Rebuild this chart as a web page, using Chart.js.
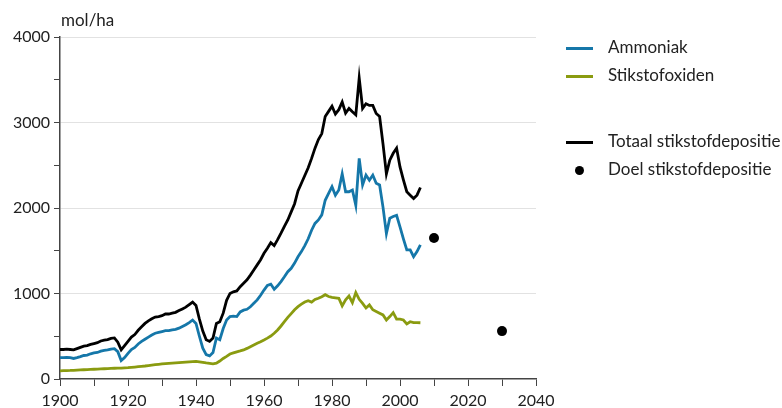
<!DOCTYPE html>
<html>
<head>
<meta charset="utf-8">
<script src="https://cdn.jsdelivr.net/npm/chart.js@4.4.1/dist/chart.umd.min.js"></script>
<style>
  body { margin: 0; background: #fff; font-family: Lato, "Open Sans", sans-serif; }
  #wrap { position: relative; width: 782px; height: 408px; }
  #unit { position: absolute; left: 61px; top: 9px; font-size: 17px; color: #222; }
  .leg { position: absolute; left: 566px; font-size: 17px; color: #222; }
  .leg .ln { position: absolute; left: 0; width: 27px; height: 3px; top: -1px; }
  .leg .dot { position: absolute; left: 9px; top: -4px; width: 9px; height: 9px; border-radius: 50%; background: #000; }
  .leg span { position: absolute; left: 42px; top: -12px; white-space: nowrap; }
</style>
</head>
<body>
<div id="wrap">
  <canvas id="chart" width="782" height="408"></canvas>
  <div id="unit">mol/ha</div>
  <div class="leg" style="top:48px"><div class="ln" style="background:#1577a9"></div><span>Ammoniak</span></div>
  <div class="leg" style="top:76px"><div class="ln" style="background:#8a9b10"></div><span>Stikstofoxiden</span></div>
  <div class="leg" style="top:142px"><div class="ln" style="background:#000"></div><span>Totaal stikstofdepositie</span></div>
  <div class="leg" style="top:170px"><div class="dot"></div><span>Doel stikstofdepositie</span></div>
</div>
<script>
const years = [
  1900, 1901, 1902, 1903, 1904, 1905, 1906, 1907, 1908, 1909,
  1910, 1911, 1912, 1913, 1914, 1915, 1916, 1917, 1918, 1919,
  1920, 1921, 1922, 1923, 1924, 1925, 1926, 1927, 1928, 1929,
  1930, 1931, 1932, 1933, 1934, 1935, 1936, 1937, 1938, 1939,
  1940, 1941, 1942, 1943, 1944, 1945, 1946, 1947, 1948, 1949,
  1950, 1951, 1952, 1953, 1954, 1955, 1956, 1957, 1958, 1959,
  1960, 1961, 1962, 1963, 1964, 1965, 1966, 1967, 1968, 1969,
  1970, 1971, 1972, 1973, 1974, 1975, 1976, 1977, 1978, 1979,
  1980, 1981, 1982, 1983, 1984, 1985, 1986, 1987, 1988, 1989,
  1990, 1991, 1992, 1993, 1994, 1995, 1996, 1997, 1998, 1999,
  2000, 2001, 2002, 2003, 2004, 2005, 2006
];

const ammoniak = [
  250, 250, 252, 250, 240, 250, 262, 275, 280, 295,
  305, 310, 325, 335, 340, 350, 355, 320, 215, 250,
  300, 345, 370, 410, 440, 465, 490, 515, 535, 545,
  555, 565, 565, 575, 580, 595, 615, 635, 660, 690,
  650, 500, 360, 285, 270, 310, 480, 460, 590, 690,
  730, 735, 730, 785, 805, 815, 845, 885, 925, 980,
  1040, 1095, 1110, 1050, 1090, 1140, 1195, 1255, 1295, 1355,
  1430, 1490, 1560, 1640, 1740, 1820, 1860, 1920, 2090, 2170,
  2250, 2150, 2210, 2400, 2190, 2190, 2210, 2030, 2580, 2270,
  2385, 2325, 2385, 2290, 2270, 2010, 1700, 1880, 1900, 1915,
  1780, 1640, 1510, 1510, 1430, 1490, 1570
];

const stikstofoxiden = [
  95, 97, 99, 100, 102, 104, 106, 108, 110, 112,
  114, 116, 118, 120, 122, 124, 126, 128, 128, 130,
  132, 136, 140, 144, 148, 152, 157, 162, 167, 172,
  176, 180, 183, 186, 189, 192, 195, 198, 201, 204,
  205, 200, 194, 188, 183, 178, 185, 210, 240, 265,
  292, 305, 318, 328, 340, 358, 378, 398, 418, 436,
  456, 478, 503, 535, 573, 620, 670, 720, 765, 810,
  846, 875, 900, 916, 900, 930, 945, 963, 986, 965,
  955, 950, 944, 855, 925, 970, 893, 1010, 932, 885,
  830, 866, 810, 790, 770, 750, 690, 730, 776, 700,
  700, 690, 645, 670, 660, 660, 658
];

const totaal = [
  345, 345, 350, 345, 340, 355, 370, 385, 390, 405,
  415, 425, 445, 455, 460, 475, 480, 430, 340, 390,
  440, 490, 520, 570, 610, 650, 680, 705, 725, 730,
  740, 760, 760, 770, 780, 800, 820, 840, 870, 900,
  860, 700, 560, 460, 440, 480, 650, 670, 770, 920,
  1000, 1020, 1030, 1080, 1120, 1160, 1215, 1275, 1335, 1395,
  1470, 1530, 1595, 1560, 1630, 1705, 1785, 1860, 1955, 2050,
  2200, 2290, 2380, 2470, 2580, 2700, 2800, 2870, 3070, 3130,
  3190, 3100, 3150, 3240, 3110, 3165, 3125, 3090, 3520, 3165,
  3220, 3200, 3200, 3105, 3070, 2750, 2400, 2560, 2640, 2700,
  2480, 2330, 2190, 2150, 2110, 2150, 2240
];

const doelJaren = [2010, 2030];
const doelWaarden = [1650, 560];

const xTicks = [1900, 1920, 1940, 1960, 1980, 2000, 2020, 2040];
const yTicks = [0, 1000, 2000, 3000, 4000];

const toPoints = (xs, ys) => xs.map((x, i) => ({ x: x, y: ys[i] }));

const axisColor = '#444';

new Chart(document.getElementById('chart'), {
    type: 'line',
    data: {
        datasets: [
            { label: 'Ammoniak', data: toPoints(years, ammoniak), borderColor: '#1577a9', borderWidth: 2.8, pointRadius: 0, tension: 0 },
            { label: 'Stikstofoxiden', data: toPoints(years, stikstofoxiden), borderColor: '#8a9b10', borderWidth: 2.8, pointRadius: 0, tension: 0 },
            { label: 'Totaal stikstofdepositie', data: toPoints(years, totaal), borderColor: '#000', borderWidth: 2.8, pointRadius: 0, tension: 0 },
            { label: 'Doel stikstofdepositie', data: toPoints(doelJaren, doelWaarden), showLine: false, pointRadius: 5, pointBackgroundColor: '#000', pointBorderWidth: 0 }
        ]
    },
    options: {
        responsive: false,
        animation: false,
        devicePixelRatio: 1,
        layout: { padding: { top: 37, right: 246, left: 0, bottom: 0 } },
        plugins: { legend: { display: false }, tooltip: { enabled: false } },
        scales: {
            x: {
                type: 'linear',
                min: 1900,
                max: 2040,
                afterFit: function(scale) { scale.height = 29; },
                ticks: {
                    stepSize: 10,
                    autoSkip: false,
                    maxRotation: 0,
                    padding: 5,
                    color: '#222',
                    font: { family: 'Lato', size: 16 },
                    callback: v => xTicks.includes(v) ? String(v) : ''
                },
                grid: { drawOnChartArea: false, tickLength: 7, tickColor: axisColor },
                border: { color: axisColor, width: 1.5 }
            },
            y: {
                min: 0,
                max: 4000,
                afterFit: function(scale) { scale.width = 60; },
                ticks: {
                    stepSize: 500,
                    padding: 4,
                    color: '#222',
                    font: { family: 'Lato', size: 16 },
                    callback: v => yTicks.includes(v) ? String(v) : ''
                },
                grid: {
                    color: ctx => (ctx.tick && ctx.tick.value > 0 && ctx.tick.value % 1000 === 0) ? '#e2e2e2' : 'rgba(0,0,0,0)',
                    tickColor: axisColor,
                    tickLength: 6
                },
                border: { color: axisColor, width: 1.5 }
            }
        }
    }
});
</script>
</body>
</html>
